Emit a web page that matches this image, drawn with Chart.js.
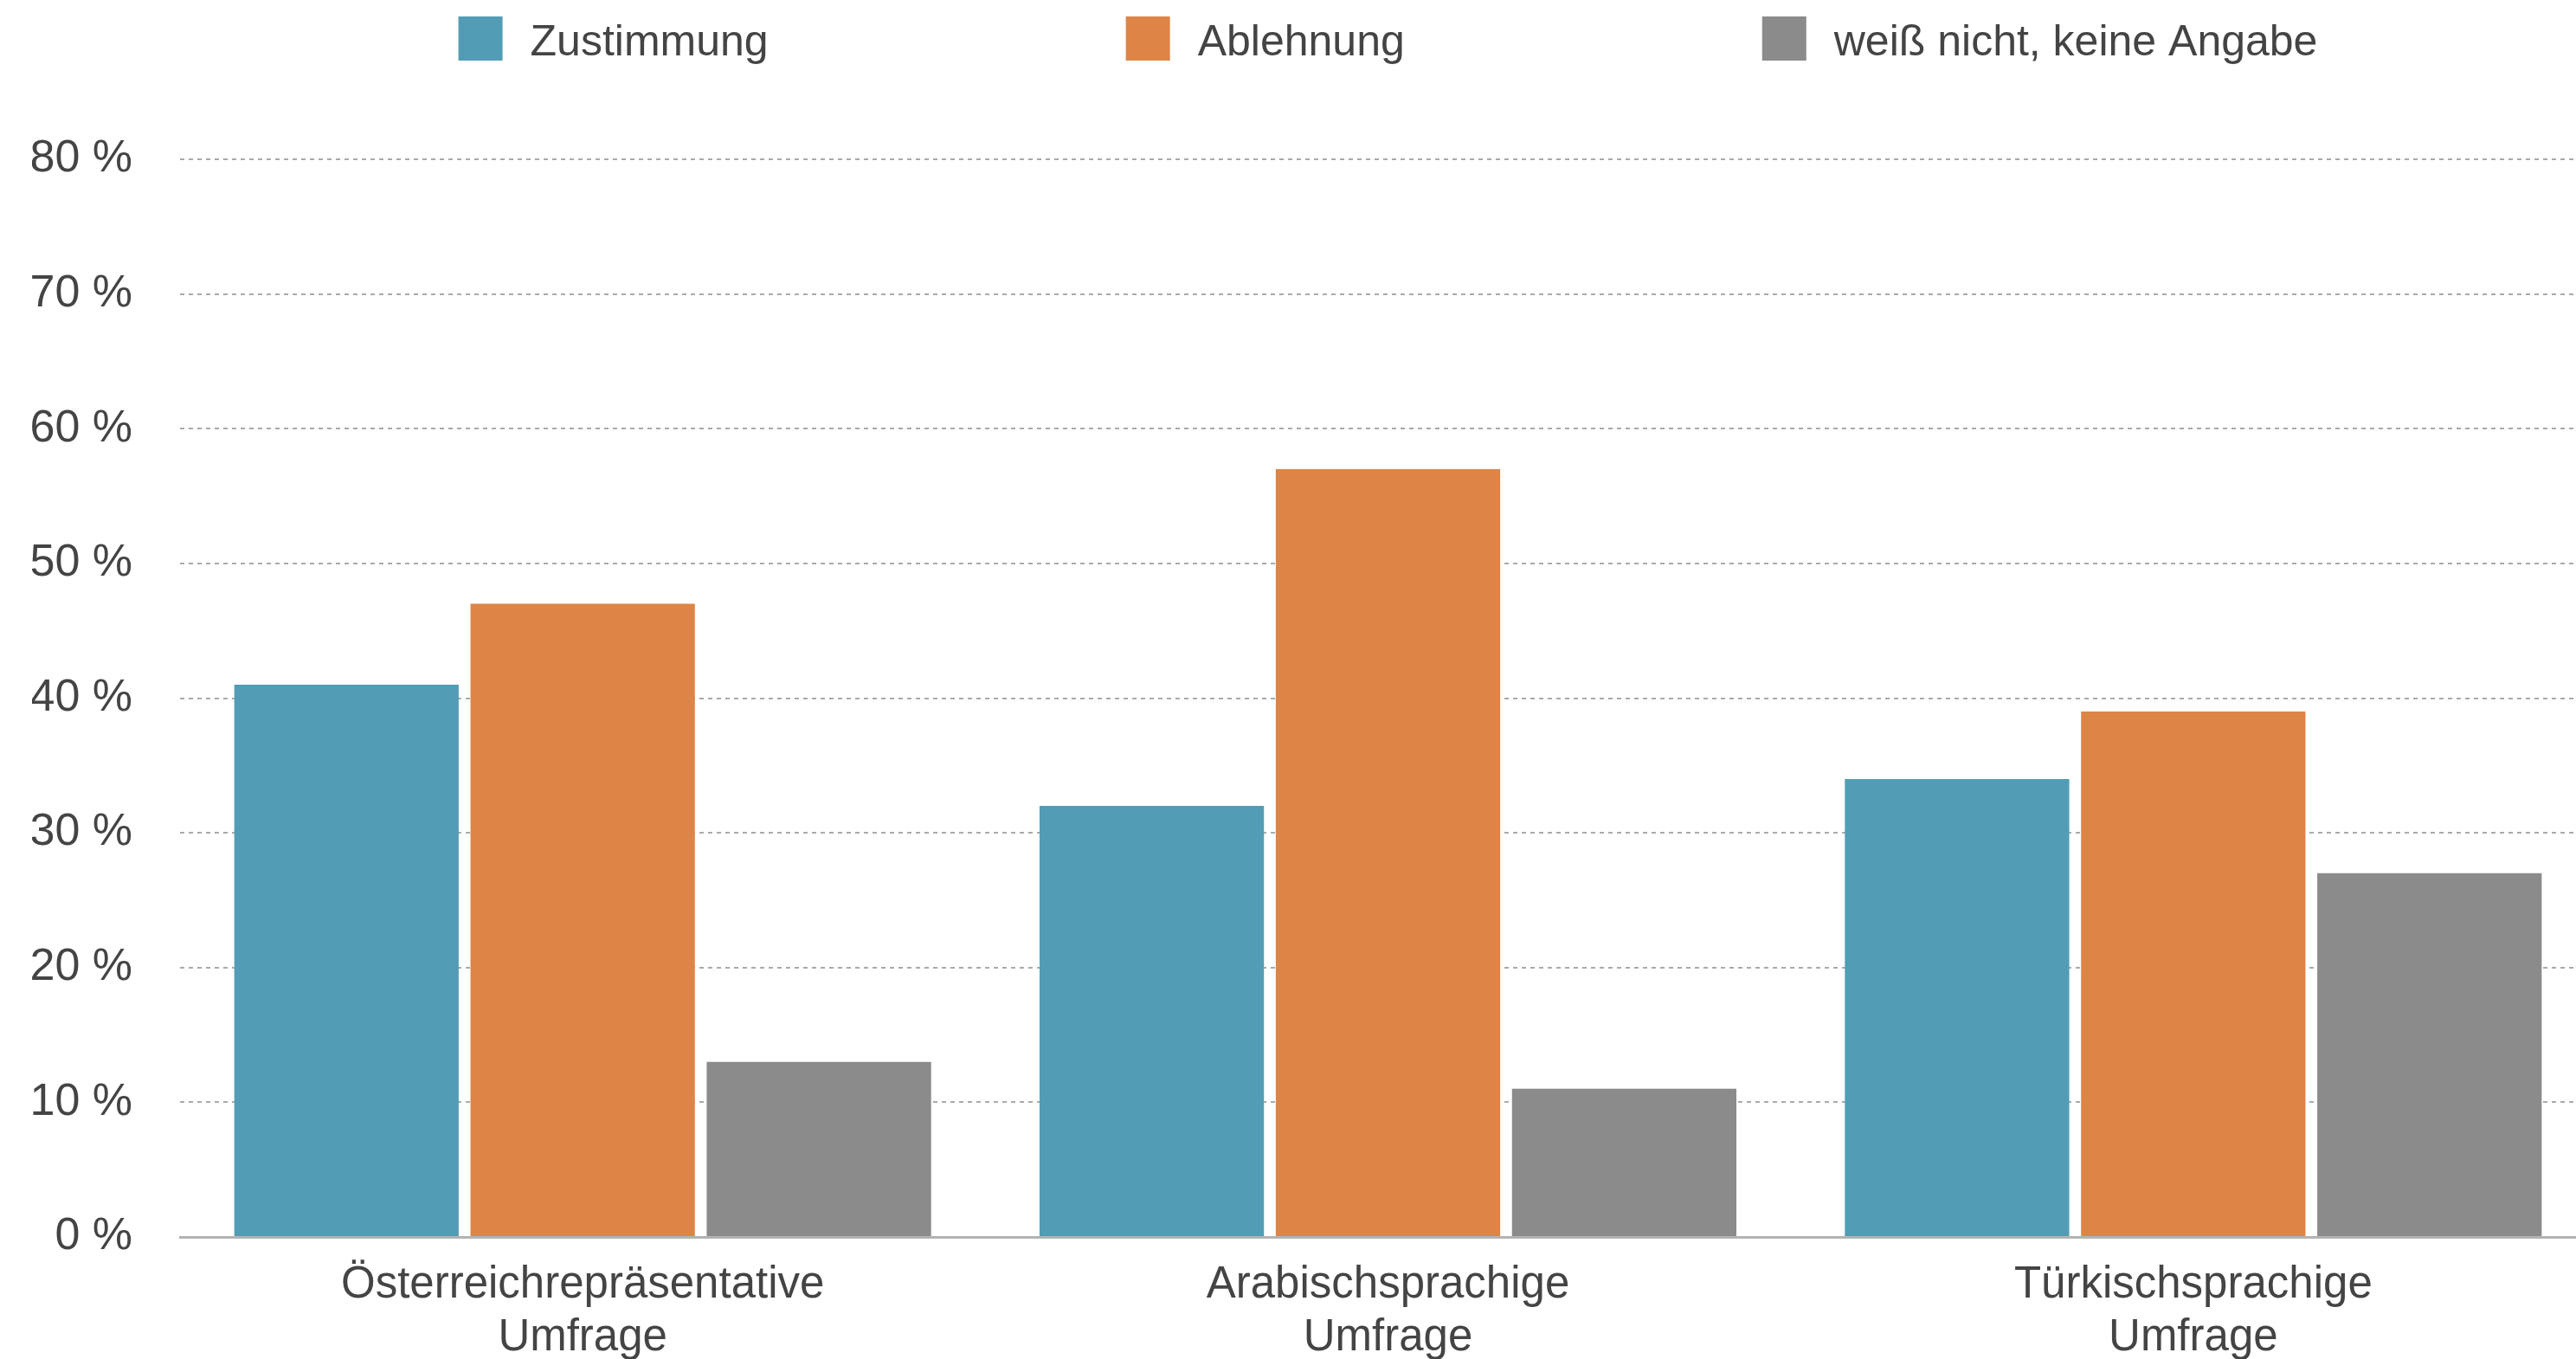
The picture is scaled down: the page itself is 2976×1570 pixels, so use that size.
<!DOCTYPE html>
<html lang="de">
<head>
<meta charset="utf-8">
<title>Umfrage</title>
<script src="https://cdn.jsdelivr.net/npm/chart.js@4"></script>
<style>
  html, body { margin: 0; padding: 0; background: #fff; overflow: hidden; }
  #wrap { width: 3000px; height: 1570px; }
</style>
</head>
<body>
<div id="wrap"><canvas id="surveyChart" width="3000" height="1570"></canvas></div>
<script>
const categories = [
  ['Österreichrepräsentative', 'Umfrage'],
  ['Arabischsprachige', 'Umfrage'],
  ['Türkischsprachige', 'Umfrage']
];
const seriesNames = ['Zustimmung', 'Ablehnung', 'weiß nicht, keine Angabe'];
const zustimmung = [41, 32, 34];
const ablehnung = [47, 57, 39];
const weissNicht = [13, 11, 27];
const yMin = 0;
const yMax = 80;
const yStep = 10;

const FONT = '"Liberation Sans", Arial, Helvetica, sans-serif';
const TEXT = '#444444';

// legend row drawn on the canvas: square swatch + label, centred over the plot
const boxLegend = {
  id: 'boxLegend',
  afterDraw(chart) {
    const ctx = chart.ctx;
    const area = chart.chartArea;
    const box = 51, textGap = 32, itemGap = 413;
    ctx.save();
    ctx.font = '50px ' + FONT;
    const items = chart.data.datasets.map(ds => ({
      label: ds.label,
      color: ds.backgroundColor,
      w: box + textGap + ctx.measureText(ds.label).width
    }));
    const total = items.reduce((s, it) => s + it.w, 0) + itemGap * (items.length - 1);
    let x = (area.left + area.right) / 2 - total / 2;
    ctx.textBaseline = 'alphabetic';
    items.forEach(it => {
      ctx.fillStyle = it.color;
      ctx.fillRect(x, 19, box, box);
      ctx.fillStyle = TEXT;
      ctx.fillText(it.label, x + box + textGap, 64);
      x += it.w + itemGap;
    });
    ctx.restore();
  }
};

const ctx = document.getElementById('surveyChart').getContext('2d');
new Chart(ctx, {
  type: 'bar',
  data: {
    labels: categories,
    datasets: [
      { label: seriesNames[0], data: zustimmung, backgroundColor: '#529db5' },
      { label: seriesNames[1], data: ablehnung, backgroundColor: '#dd8447' },
      { label: seriesNames[2], data: weissNicht, backgroundColor: '#8b8b8b' }
    ]
  },
  options: {
    responsive: false,
    animation: false,
    categoryPercentage: 0.88,
    barPercentage: 0.95,
    layout: { padding: { top: 184, left: 37, right: 1, bottom: 0 } },
    plugins: {
      legend: { display: false },
      tooltip: { enabled: false }
    },
    scales: {
      x: {
        grid: { display: false, drawTicks: false },
        border: { color: '#b3b3b3', width: 3 },
        ticks: {
          color: TEXT,
          font: { family: FONT, size: 51, lineHeight: 1.2 },
          padding: 25,
          maxRotation: 0,
          autoSkip: false
        },
        afterFit(scale) { scale.height = 141; }
      },
      y: {
        min: yMin,
        max: yMax,
        grid: { color: '#aaaaaa', lineWidth: 2, drawTicks: false },
        border: { display: false, dash: [5, 5] },
        ticks: {
          stepSize: yStep,
          color: TEXT,
          font: { family: FONT, size: 52 },
          padding: 55,
          callback: v => v + ' %'
        },
        afterFit(scale) { scale.width = 171; }
      }
    }
  },
  plugins: [boxLegend]
});
</script>
</body>
</html>
